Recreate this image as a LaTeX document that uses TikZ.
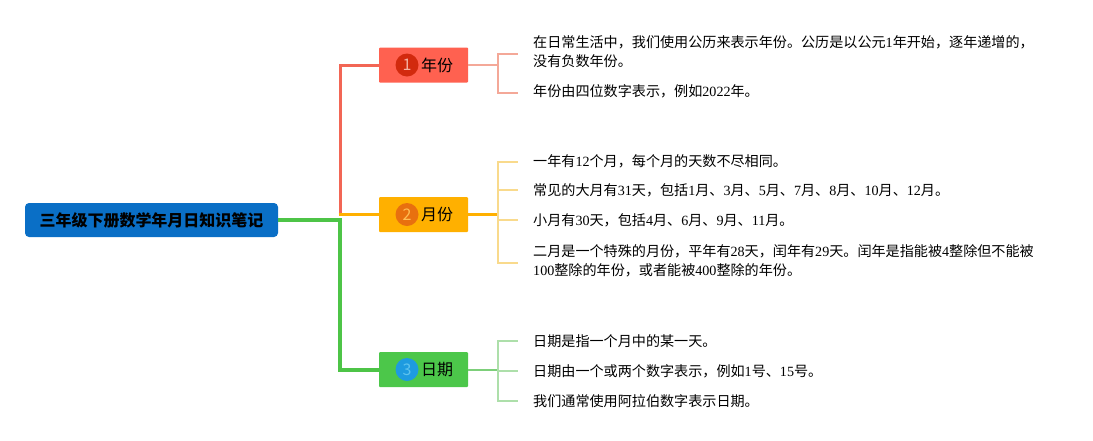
\documentclass[tikz,border=0pt]{standalone}
\usepackage{fontspec}
\setmainfont{Noto Sans CJK SC}
\newfontfamily\lat{Liberation Serif}
\newcommand\dg[1]{{\lat #1}}
\definecolor{rootblue}{HTML}{0A6FC6}
\definecolor{redbox}{HTML}{FF6150}
\definecolor{redcirc}{HTML}{D22A0E}
\definecolor{reddig}{HTML}{F5B0A2}
\definecolor{redline}{HTML}{F26655}
\definecolor{redlight}{HTML}{F4A898}
\definecolor{orgbox}{HTML}{FFB000}
\definecolor{orgcirc}{HTML}{E8700F}
\definecolor{orgdig}{HTML}{FFBE55}
\definecolor{orgline}{HTML}{FFB000}
\definecolor{orglight}{HTML}{F9DA8C}
\definecolor{grnbox}{HTML}{4CC74A}
\definecolor{grncirc}{HTML}{1E9BE0}
\definecolor{grndig}{HTML}{5EC3EE}
\definecolor{grnline}{HTML}{4DC447}
\definecolor{grnmid}{HTML}{7DCF7A}
\definecolor{grnlight}{HTML}{ADDFAA}
\tikzset{
  rootbox/.style={fill=rootblue, rounded corners=4pt, minimum width=253pt, minimum height=34pt, inner sep=0pt, font=\fontsize{16}{18}\selectfont\bfseries, text=black},
  topicbox/.style={rounded corners=1pt, minimum width=89pt, minimum height=35pt, inner sep=0pt},
  numcirc/.style={circle, minimum size=23pt, inner sep=0pt, font=\fontsize{16}{17}\selectfont},
  topiclabel/.style={inner sep=0pt, font=\fontsize{16}{18}\selectfont, text=black},
  leaf/.style={anchor=west, inner sep=0pt, align=left, font=\fontsize{14.1}{19}\selectfont, text=black},
}
\begin{document}
\begin{tikzpicture}[x=1pt,y=-1pt]
\useasboundingbox (0,0) rectangle (1093,440);
% root
\node[rootbox] (root) at (151.5,220) {三年级下册数学年月日知识笔记};
% topic boxes
\node[topicbox, fill=redbox] (b1) at (423.5,65) {};
\node[numcirc, fill=redcirc, text=reddig] (c1) at (407,65) {1};
\node[topiclabel] (t1) at (437,65) {年份};
\node[topicbox, fill=orgbox] (b2) at (423.5,214.5) {};
\node[numcirc, fill=orgcirc, text=orgdig] (c2) at (407,214.5) {2};
\node[topiclabel] (t2) at (437,214.5) {月份};
\node[topicbox, fill=grnbox] (b3) at (423.5,369.5) {};
\node[numcirc, fill=grncirc, text=grndig] (c3) at (407,369.5) {3};
\node[topiclabel] (t3) at (437,369.5) {日期};
% leaves
\node[leaf] (l11) at (533,51.5) {在日常生活中，我们使用公历来表示年份。公历是以公元\dg{1}年开始，逐年递增的，\\没有负数年份。};
\node[leaf] (l12) at (533,91) {年份由四位数字表示，例如\dg{2022}年。};
\node[leaf] (l21) at (533,161) {一年有\dg{12}个月，每个月的天数不尽相同。};
\node[leaf] (l22) at (533,190) {常见的大月有\dg{31}天，包括\dg{1}月、\dg{3}月、\dg{5}月、\dg{7}月、\dg{8}月、\dg{10}月、\dg{12}月。};
\node[leaf] (l23) at (533,220) {小月有\dg{30}天，包括\dg{4}月、\dg{6}月、\dg{9}月、\dg{11}月。};
\node[leaf] (l24) at (533,260.5) {二月是一个特殊的月份，平年有\dg{28}天，闰年有\dg{29}天。闰年是指能被\dg{4}整除但不能被\\\dg{100}整除的年份，或者能被\dg{400}整除的年份。};
\node[leaf] (l31) at (533,341) {日期是指一个月中的某一天。};
\node[leaf] (l32) at (533,371) {日期由一个或两个数字表示，例如\dg{1}号、\dg{15}号。};
\node[leaf] (l33) at (533,401) {我们通常使用阿拉伯数字表示日期。};
% trunk
\coordinate (j) at (340,216);
\coordinate (jg) at (340,220);
\draw[redline, line width=3pt] (j) |- (b1.west);
\draw[orgline, line width=3pt] (338.5,214.5) -- (b2.west);
\draw[grnline, line width=4pt] (root.east) -- (jg) |- (b3.west);
% brackets
\coordinate (k1) at (498,65);
\coordinate (k2) at (498,214.5);
\coordinate (k3) at (498,369.5);
\draw[redlight, line width=1.6pt] (b1.east) -- (k1);
\draw[redlight, line width=1.3pt] (k1) |- ([xshift=-15pt,yshift=-2.5pt]l11.west);
\draw[redlight, line width=1.3pt] (k1) |- ([xshift=-15pt,yshift=-2pt]l12.west);
\draw[orgline, line width=2.2pt] (b2.east) -- (k2);
\draw[orglight, line width=1.3pt] (k2) |- ([xshift=-15pt,yshift=-1pt]l21.west);
\draw[orglight, line width=1.3pt] (k2) |- ([xshift=-15pt]l22.west);
\draw[orglight, line width=1.3pt] (k2) |- ([xshift=-15pt]l23.west);
\draw[orglight, line width=1.3pt] (k2) |- ([xshift=-15pt,yshift=-2.5pt]l24.west);
\draw[grnmid, line width=2pt] (b3.east) -- (k3);
\draw[grnlight, line width=1.3pt] (k3) |- ([xshift=-15pt]l31.west);
\draw[grnlight, line width=1.3pt] (k3) |- ([xshift=-15pt]l32.west);
\draw[grnlight, line width=1.3pt] (k3) |- ([xshift=-15pt]l33.west);
\end{tikzpicture}
\end{document}
